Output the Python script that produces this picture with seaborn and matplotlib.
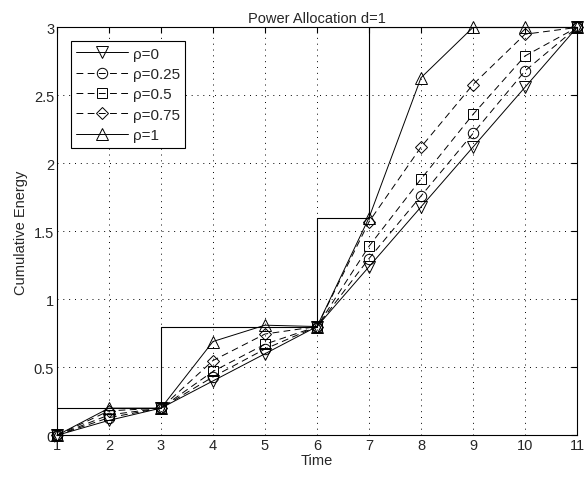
import numpy as np
import pandas as pd
import matplotlib
matplotlib.use('Agg')
import matplotlib.pyplot as plt
import seaborn as sns

time = [1, 2, 3, 4, 5, 6, 7, 8, 9, 10, 11]
budget = [0.2, 0.2, 0.8, 0.8, 0.8, 1.6, 3, 3, 3, 3, 3]
rho_0 = [0, 0.11, 0.2, 0.4, 0.6, 0.8, 1.24, 1.68, 2.12, 2.56, 3]
rho_025 = [0, 0.13, 0.2, 0.43, 0.635, 0.8, 1.3, 1.76, 2.22, 2.68, 3]
rho_05 = [0, 0.15, 0.2, 0.47, 0.67, 0.8, 1.39, 1.885, 2.36, 2.79, 3]
rho_075 = [0, 0.18, 0.2, 0.55, 0.745, 0.8, 1.57, 2.12, 2.58, 2.95, 3]
rho_1 = [0, 0.2, 0.2, 0.69, 0.81, 0.8, 1.6, 2.63, 3, 3, 3]

labels = ['ρ=0', 'ρ=0.25', 'ρ=0.5', 'ρ=0.75', 'ρ=1']
series = [rho_0, rho_025, rho_05, rho_075, rho_1]
markers = ['v', 'o', 's', 'D', '^']
dashed = (0, (7, 4.5))
styles = ['-', dashed, dashed, dashed, '-']
msizes = [8, 7.5, 6.5, 6.5, 9]

sns.set_style('white')
plt.rcParams['font.family'] = ['Liberation Sans', 'DejaVu Sans']
plt.rcParams['font.size'] = 10

fig = plt.figure(figsize=(5.84, 4.81), dpi=100)
ax = fig.add_axes([0.0976, 0.0929, 0.8904, 0.848])

# budget staircase (no legend entry)
sns.lineplot(x=time, y=budget, ax=ax, color='k', linewidth=0.8,
             drawstyle='steps-post', legend=False)

for lab, vals, mk, ls, ms in zip(labels, series, markers, styles, msizes):
    sns.lineplot(x=time, y=vals, ax=ax, color='k', linewidth=0.7,
                 linestyle=ls, marker=mk, markersize=ms,
                 markerfacecolor='none', markeredgecolor='k',
                 markeredgewidth=0.7, label=lab, clip_on=False, zorder=5)

ax.set_xlim(1, 11)
ax.set_ylim(0, 3)
ax.set_xticks(time)
ax.set_yticks([0, 0.5, 1, 1.5, 2, 2.5, 3])
ax.set_yticklabels(['0', '0.5', '1', '1.5', '2', '2.5', '3'])
ax.grid(True, linestyle=(0, (1, 5)), color='k', linewidth=0.7)
ax.tick_params(direction='in', top=True, right=True, length=4,
               labelsize=10.5, pad=2, color='k')
for s in ax.spines.values():
    s.set_color('k')
    s.set_linewidth(0.8)

ax.set_xlabel('Time', fontsize=10.5, labelpad=1)
ax.set_ylabel('Cumulative Energy', fontsize=10.5, labelpad=4)
ax.set_title('Power Allocation d=1', fontsize=10.5, pad=4)

leg = ax.legend(loc='upper left', bbox_to_anchor=(0.012, 0.985),
                fontsize=11, handlelength=3.4, frameon=True, fancybox=False,
                edgecolor='k', borderpad=0.35, labelspacing=0.42,
                handletextpad=0.3, framealpha=1)
leg.get_frame().set_linewidth(0.8)
leg.set_zorder(10)

plt.savefig('out.png', dpi=100)
plt.close()
